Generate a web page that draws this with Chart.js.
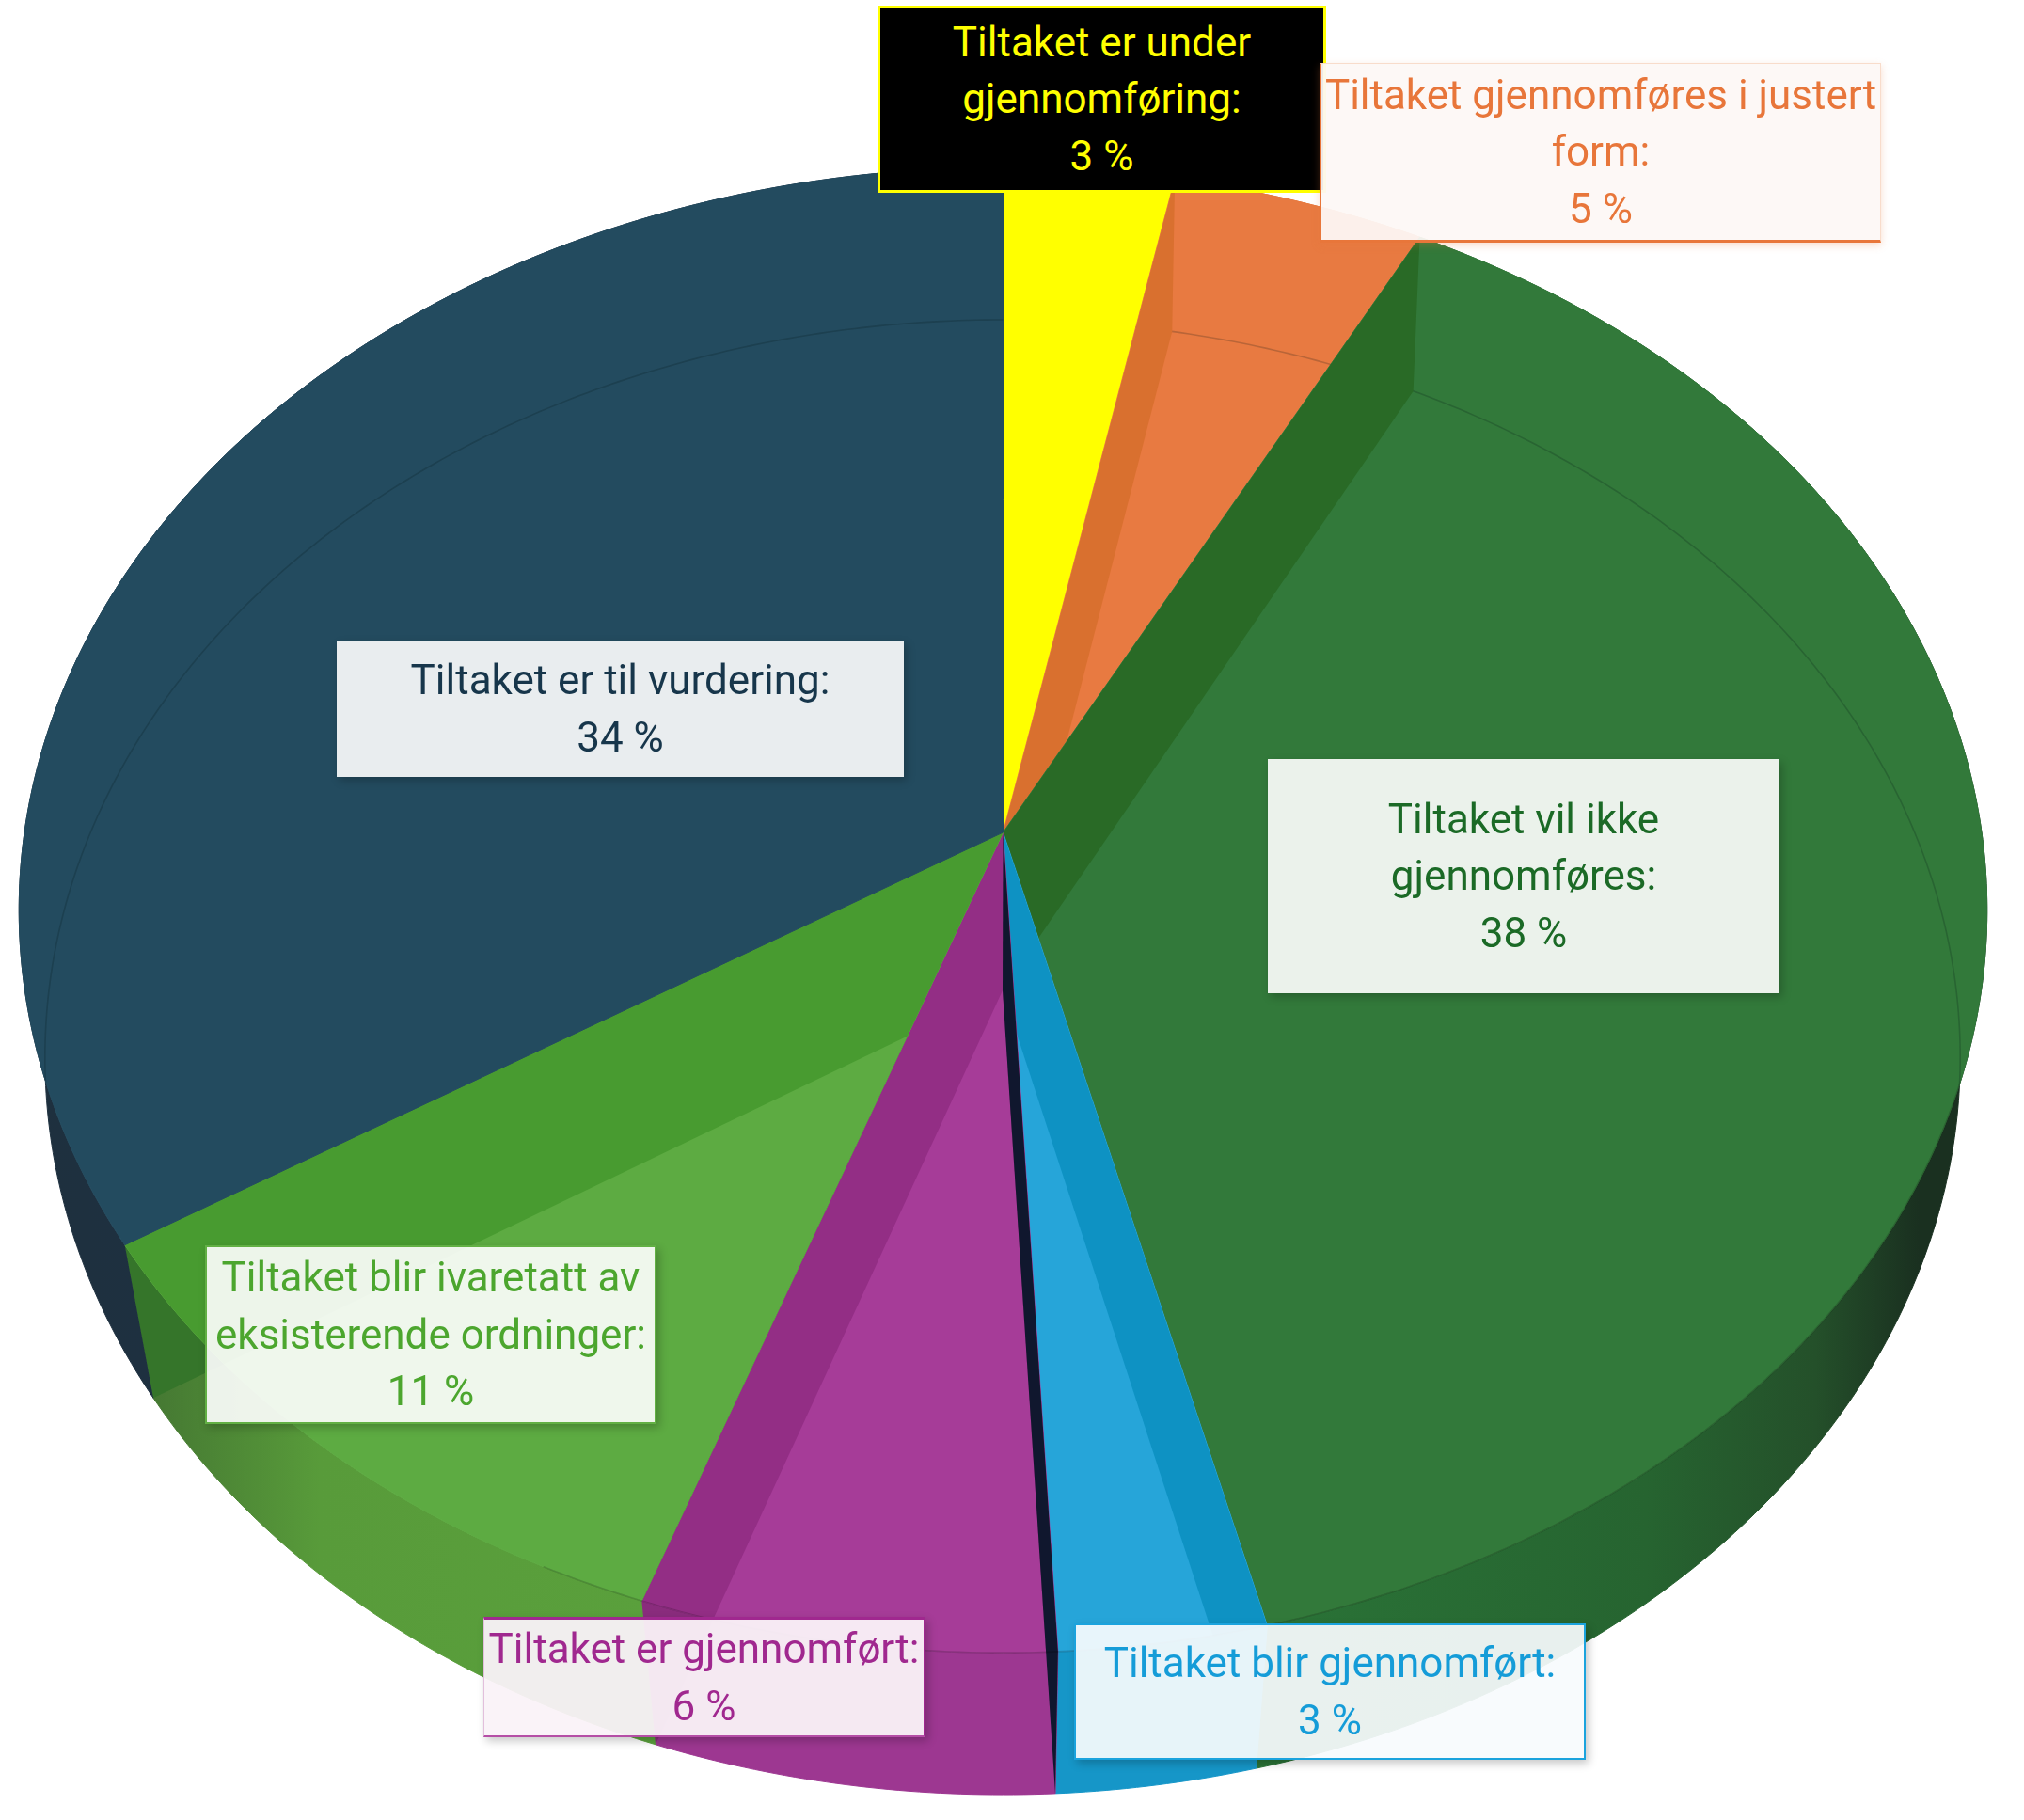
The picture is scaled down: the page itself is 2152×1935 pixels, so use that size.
<!DOCTYPE html>
<html lang="no">
<head>
<meta charset="utf-8">
<title>Status for tiltak</title>
<script src="https://cdn.jsdelivr.net/npm/chart.js@4/dist/chart.umd.min.js"></script>
<style>
  html, body { margin: 0; padding: 0; background: #fff; }
  #wrap { position: relative; width: 2152px; height: 1935px; overflow: hidden; }
  canvas { position: absolute; left: 0; top: 0; }
  .lbl {
    position: absolute; box-sizing: border-box; display: flex; align-items: center; justify-content: center;
    text-align: center; white-space: pre; font-family: Roboto, sans-serif; font-size: 44px; line-height: 60.5px;
    box-shadow: 3px 4px 9px rgba(0,0,0,0.22);
  }
  #lbl0 { left: 933px; top: 6px; width: 477px; height: 199px; background: #000; color: #ffff00; border: 3px solid #ffff00; box-shadow: none; }
  #lbl1 { left: 1403px; top: 67px; width: 597px; height: 191px; background: rgba(253,248,245,0.94); color: #e8763a; border-left: 2px solid #e8763a; border-top: 1px solid #f8dccb; border-right: 1px solid #f8dccb; border-bottom: 3px solid #e8763a; box-shadow: 0 3px 8px rgba(232,118,58,0.25); }
  #lbl2 { left: 1348px; top: 807px; width: 544px; height: 249px; background: rgba(255,255,255,0.9); color: #1b6a26; }
  #lbl3 { left: 1142px; top: 1726px; width: 544px; height: 145px; background: rgba(248,251,253,0.93); color: #159cd8; border: 2px solid #1ba3dd; }
  #lbl4 { left: 514px; top: 1719px; width: 470px; height: 128px; background: rgba(250,242,248,0.95); color: #a0288f; border-top: 3px solid #a0288f; border-right: 2px solid #a0288f; border-bottom: 2px solid #b54ea6; border-left: 1px solid #e2bfdc; }
  #lbl5 { left: 218px; top: 1324px; width: 480px; height: 190px; background: rgba(255,255,255,0.9); color: #4ca62e; border: 2px solid #62b044; }
  #lbl6 { left: 358px; top: 681px; width: 603px; height: 145px; background: rgba(255,255,255,0.9); color: #17364b; }
</style>
</head>
<body>
<div id="wrap">
  <canvas id="pie" width="2152" height="1935"></canvas>
</div>
<script>
// clockwise from 12 o'clock (labels show them rounded)
const categories = [
  "Tiltaket er under\ngjennomføring:",
  "Tiltaket gjennomføres i justert\nform:",
  "Tiltaket vil ikke\ngjennomføres:",
  "Tiltaket blir gjennomført:",
  "Tiltaket er gjennomført:",
  "Tiltaket blir ivaretatt av\neksisterende ordninger:",
  "Tiltaket er til vurdering:",
];
const values = [3.1, 4.6, 38.4, 3.1, 6.2, 10.7, 33.9];

const faceColors = ["#ffff00", "#e87a41", "#32793a", "#26a5d9", "#a63c98", "#5dab42", "#234b5f"];
const wallColors = ["#ffff00", "#d9702f", "#296a26", "#0e92c3", "#932e85", "#489b30", "#234b5f"];
const rimWallColors = [null, null, null, null, "#8a2c7d", "#35752a", null];
const sideStops = [
  [[0, "#e0e000"]],
  [[0, "#d9702f"]],
  [[1340, "#2a7337"], [1750, "#266430"], [1930, "#24502a"], [2040, "#1a3020"]],
  [[0, "#1696c8"]],
  [[0, "#9d3791"]],
  [[150, "#447632"], [340, "#589b3a"], [690, "#5aa03c"]],
  [[20, "#1e303e"], [160, "#1e3040"]],
];
const wedgeColor = "#10172e";

// the two faces of the slab, as seen in perspective
const topDisk = { cx: 1066.5, cy: 885, a: 1040.5, b: 781, k: -0.1045 };
const lowDisk = { cx: 1066, cy: 1053, a: 1014, b: 777.6, k: -0.0906 };

function proj(d, ang) {
  const x = Math.cos(ang), y = Math.sin(ang), w = 1 + d.k * y;
  return [d.cx + d.a * x / w, d.cy + d.b * y / w];
}

function arcPoints(d, from, to) {
  const n = Math.max(2, Math.ceil(Math.abs(to - from) / 0.01));
  const pts = [];
  for (let i = 0; i <= n; i++) pts.push(proj(d, from + (to - from) * i / n));
  return pts;
}

function tracePoly(ctx, pts) {
  ctx.beginPath();
  pts.forEach((p, i) => (i ? ctx.lineTo(p[0], p[1]) : ctx.moveTo(p[0], p[1])));
  ctx.closePath();
}

function sector(d, from, to) {
  return [[d.cx, d.cy], ...arcPoints(d, from, to)];
}

// the strip between a slice edge on the upper face and the same edge on the floor
function wallQuad(edge) {
  return [[topDisk.cx, topDisk.cy], proj(topDisk, edge), proj(lowDisk, edge), [lowDisk.cx, lowDisk.cy]];
}

function sideFill(ctx, stops) {
  if (stops.length === 1) return stops[0][1];
  const x0 = stops[0][0], x1 = stops[stops.length - 1][0];
  const g = ctx.createLinearGradient(x0, 0, x1, 0);
  stops.forEach((s) => g.addColorStop((s[0] - x0) / (x1 - x0), s[1]));
  return g;
}

function strokeArc(ctx, pts, color) {
  ctx.beginPath();
  pts.forEach((p, i) => (i ? ctx.lineTo(p[0], p[1]) : ctx.moveTo(p[0], p[1])));
  ctx.strokeStyle = color;
  ctx.lineWidth = 1.6;
  ctx.stroke();
}

// Angles come from the pie controller, the plugin only projects them onto the slab
const slabPlugin = {
  id: "slab",
  beforeDatasetDraw(chart, args) {
    const ctx = chart.ctx;
    const arcs = args.meta.data;
    ctx.save();

    // rim band first, the faces cover most of it
    arcs.forEach((arc, i) => {
      const a = arc.startAngle, b = arc.endAngle;
      tracePoly(ctx, [...arcPoints(lowDisk, a, b), ...arcPoints(topDisk, b, a)]);
      const fill = sideFill(ctx, sideStops[i]);
      ctx.fillStyle = fill;
      ctx.strokeStyle = fill;
      ctx.lineWidth = 1;
      ctx.fill();
      ctx.stroke();
    });
    arcs.forEach((arc, i) => {
      if (!rimWallColors[i]) return;
      tracePoly(ctx, wallQuad(arc.endAngle));
      ctx.fillStyle = rimWallColors[i];
      ctx.fill();
    });

    // slices: face colour and floor line, with the wall strips darker on top
    arcs.forEach((arc, i) => {
      const a = arc.startAngle, b = arc.endAngle;
      const upper = sector(topDisk, a, b);
      tracePoly(ctx, upper);
      ctx.fillStyle = faceColors[i];
      ctx.strokeStyle = faceColors[i];
      ctx.lineWidth = 1;
      ctx.fill();
      ctx.stroke();

      ctx.save();
      tracePoly(ctx, upper);
      ctx.clip();
      if (i !== 0) strokeArc(ctx, arcPoints(lowDisk, a - 0.4, b + 0.4), "rgba(0,20,20,0.2)");
      [a, b].forEach((edge) => {
        tracePoly(ctx, wallQuad(edge));
        ctx.fillStyle = wallColors[i];
        ctx.fill();
      });
      ctx.restore();
    });

    // dark sliver between the blue and the purple slice
    tracePoly(ctx, wallQuad(arcs[4].startAngle));
    ctx.fillStyle = wedgeColor;
    ctx.fill();

    // front edge of the upper face
    const s = arcs[1].endAngle, e = arcs[5].endAngle;
    ctx.save();
    tracePoly(ctx, [...arcPoints(lowDisk, s, e)]);
    ctx.clip();
    strokeArc(ctx, arcPoints(topDisk, s + 1.0, arcs[4].endAngle + 0.1), "rgba(0,0,0,0.18)");
    ctx.restore();

    ctx.restore();
    return false;
  },
};

new Chart(document.getElementById("pie").getContext("2d"), {
  type: "pie",
  data: {
    labels: categories,
    datasets: [{ data: values, backgroundColor: faceColors, borderWidth: 0 }],
  },
  options: {
    responsive: false,
    animation: false,
    plugins: { legend: { display: false }, tooltip: { enabled: false } },
  },
  plugins: [slabPlugin],
});

const wrap = document.getElementById("wrap");
categories.forEach((c, i) => {
  const el = document.createElement("div");
  el.className = "lbl";
  el.id = "lbl" + i;
  el.textContent = c + "\n" + Math.round(values[i]) + " %";
  wrap.appendChild(el);
});
</script>
</body>
</html>
